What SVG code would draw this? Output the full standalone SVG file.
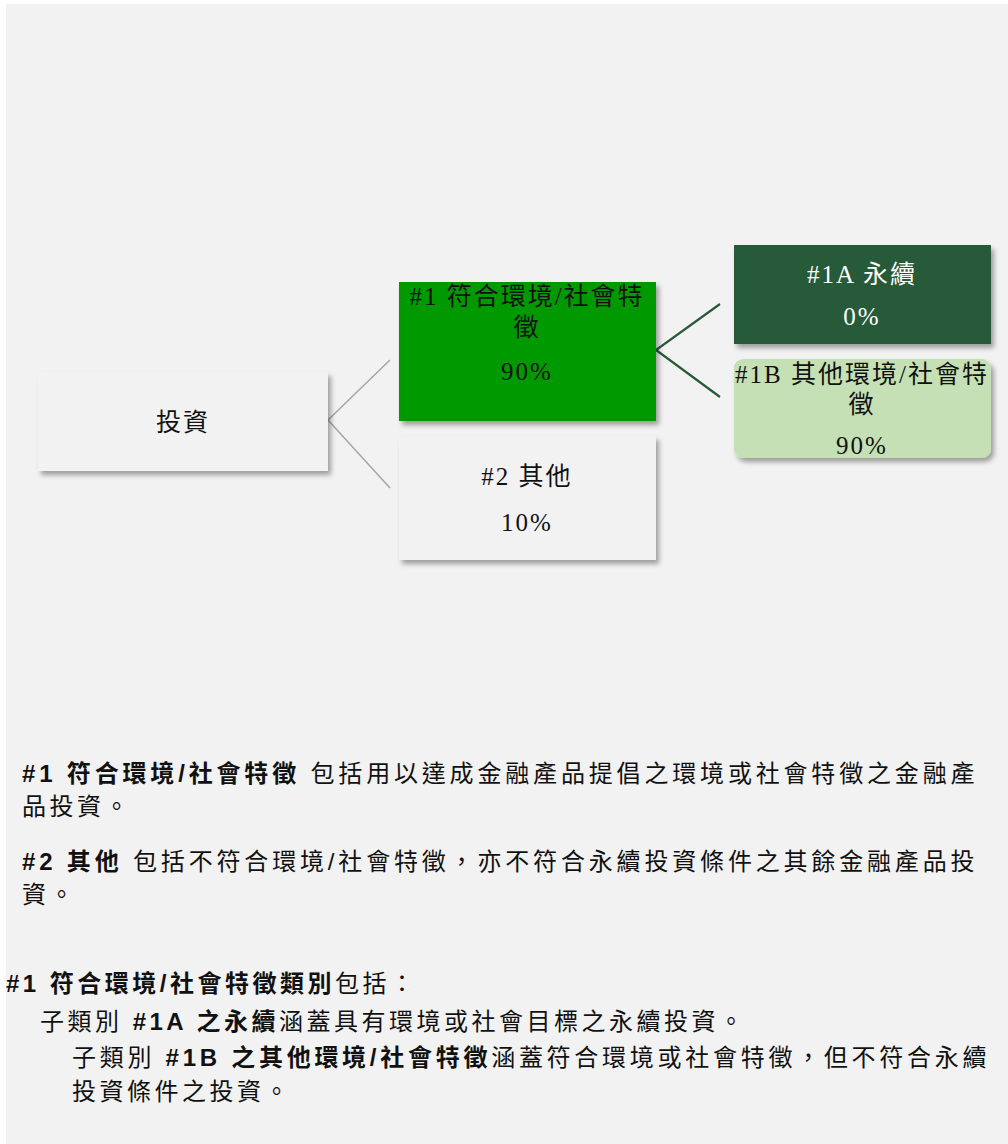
<svg xmlns="http://www.w3.org/2000/svg" width="1008" height="1144" viewBox="0 0 1008 1144">
<defs>
<filter id="sh" x="-10%" y="-10%" width="125%" height="130%">
<feDropShadow dx="3" dy="4" stdDeviation="2.5" flood-color="#000" flood-opacity="0.35"/>
</filter>
</defs>
<style>
.t{font-family:"Liberation Serif","Noto Sans CJK TC",serif;font-size:25px;letter-spacing:2px;text-anchor:middle;fill:#111}
.w{fill:#fff}
.p{font-family:"Liberation Sans","Noto Sans CJK TC",sans-serif;font-size:24px;letter-spacing:3.5px;fill:#111}
.b{font-weight:bold}
.g{fill:none;stroke:#a6a6a6;stroke-width:1.5}
.d{fill:none;stroke:#275a38;stroke-width:2.2}
</style>
<rect x="0" y="0" width="1008" height="1144" fill="#fff"/>
<rect x="6" y="4" width="1002" height="1140" fill="#f2f2f2"/>
<g id="connectors">
<polyline class="g" points="390,360 328,420 390,488"/>
<polyline class="d" points="720,304 656,350 720,397"/>
</g>
<g id="n-invest">
<rect x="38" y="372" width="290" height="99" fill="#f2f2f2" filter="url(#sh)"/>
<text class="t" x="183" y="431">投資</text>
</g>
<g id="n-1">
<rect x="399" y="282" width="257" height="139" fill="#009900" filter="url(#sh)"/>
<text class="t" x="527" y="305">#1 符合環境/社會特</text>
<text class="t" x="527" y="336">徵</text>
<text class="t" x="527" y="380">90%</text>
</g>
<g id="n-2">
<rect x="399" y="436" width="257" height="124" fill="#f2f2f2" filter="url(#sh)"/>
<text class="t" x="527" y="485">#2 其他</text>
<text class="t" x="527" y="531">10%</text>
</g>
<g id="n-1a">
<rect x="734" y="245" width="257" height="99" fill="#275a38" filter="url(#sh)"/>
<text class="t w" x="862" y="283">#1A 永續</text>
<text class="t w" x="862" y="325">0%</text>
</g>
<g id="n-1b">
<rect x="734" y="359" width="257" height="99" rx="9" fill="#c5e0b4" filter="url(#sh)"/>
<text class="t" x="862" y="383">#1B 其他環境/社會特</text>
<text class="t" x="862" y="413">徵</text>
<text class="t" x="862" y="454">90%</text>
</g>
<g id="notes">
<text class="p" x="22" y="782" textLength="956" lengthAdjust="spacing"><tspan class="b">#1 符合環境/社會特徵</tspan> 包括用以達成金融產品提倡之環境或社會特徵之金融產</text>
<text class="p" x="22" y="815">品投資。</text>
<text class="p" x="22" y="870" textLength="956" lengthAdjust="spacing"><tspan class="b">#2 其他</tspan> 包括不符合環境/社會特徵，亦不符合永續投資條件之其餘金融產品投</text>
<text class="p" x="22" y="903">資。</text>
<text class="p" x="6" y="992"><tspan class="b">#1 符合環境/社會特徵類別</tspan>包括：</text>
<text class="p" x="40" y="1030"><tspan>子類別 </tspan><tspan class="b">#1A 之永續</tspan>涵蓋具有環境或社會目標之永續投資。</text>
<text class="p" x="72" y="1066" textLength="918" lengthAdjust="spacing"><tspan>子類別 </tspan><tspan class="b">#1B 之其他環境/社會特徵</tspan>涵蓋符合環境或社會特徵，但不符合永續</text>
<text class="p" x="72" y="1100">投資條件之投資。</text>
</g>
</svg>
